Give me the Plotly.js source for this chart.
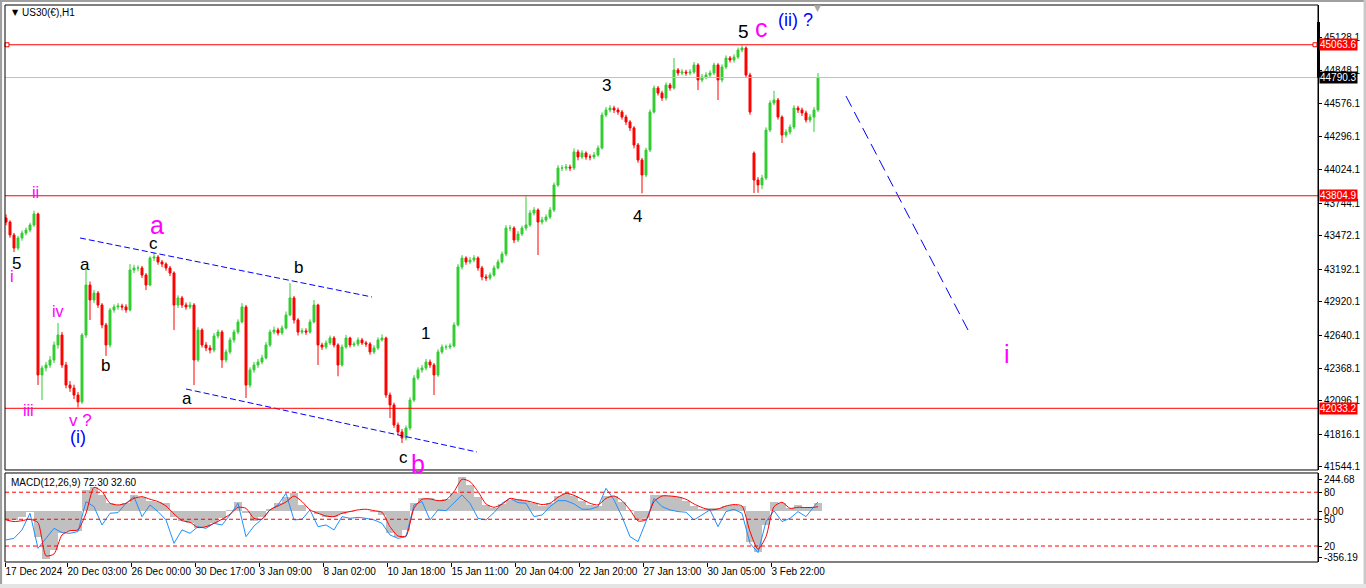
<!DOCTYPE html>
<html><head><meta charset="utf-8">
<script src="https://cdn.plot.ly/plotly-3.0.1.min.js"></script>
<style>html,body{margin:0;padding:0;background:#fff}#chart{width:1366px;height:588px}</style>
</head><body><div id="chart"></div>
<script>
// ---- Candle data (each candle ≈ 2 H1 bars), prices ----
const opens = [43620,43586,43478,43369,43453,43494,43519,43561,43653,42311,
42369,42394,42436,42561,42644,42394,42227,42202,42144,42086,
42644,43061,42936,42994,42894,42728,42561,42853,42878,42886,
42878,42853,43186,43203,43203,43144,43061,43286,43294,43253,
43236,43203,43161,42894,42953,42894,42878,42894,42436,42686,
42561,42536,42519,42636,42669,42436,42503,42603,42669,42753,
42878,42227,42353,42394,42419,42453,42561,42669,42686,42661,
42703,42811,42953,42769,42669,42678,42669,42753,42894,42561,
42544,42578,42619,42561,42394,42544,42619,42561,42569,42603,
42578,42569,42503,42536,42603,42619,42144,42061,41894,41836,
41786,41869,42102,42286,42353,42369,42419,42394,42311,42503,
42544,42544,42553,42728,43211,43286,43253,43269,43286,43203,
43128,43119,43144,43203,43253,43319,43536,43536,43436,43486,
43536,43561,43661,43686,43586,43603,43628,43686,43894,44036,
44036,44044,44036,44170,44128,44161,44128,44128,44145,44203,
44478,44520,44536,44520,44503,44461,44420,44370,44228,44103,
43978,44186,44503,44703,44661,44620,44728,44703,44853,44828,
44836,44828,44836,44895,44770,44795,44811,44828,44895,44770,
44878,44953,44936,44961,45020,45036,44811,44161,43936,43895,
43953,44353,44578,44603,44461,44311,44336,44378,44536,44520,
44495,44436,44461,44520];
const highs = [43650,43600,43495,43470,43515,43540,43580,43680,43665,42390,
42420,42470,42590,42744,42670,42420,42260,42230,42170,42660,
43203,43090,43020,43010,42910,42745,42870,42900,42910,42905,
42900,43236,43230,43225,43220,43160,43300,43328,43310,43270,
43250,43220,43175,42975,42970,42915,42920,42910,42710,42700,
42585,42560,42660,42690,42685,42525,42625,42690,42775,42910,
42895,42375,42420,42445,42480,42585,42690,42715,42705,42725,
42840,43077,42970,42785,42700,42700,42775,42936,42905,42580,
42600,42640,42635,42575,42565,42645,42630,42590,42625,42620,
42595,42585,42560,42625,42650,42630,42165,42080,41915,41860,
41890,42125,42310,42375,42395,42445,42440,42410,42525,42565,
42565,42575,42750,43235,43310,43300,43295,43310,43300,43220,
43150,43165,43225,43275,43340,43560,43560,43550,43510,43555,
43800,43685,43710,43700,43630,43650,43710,43915,44060,44060,
44070,44065,44200,44190,44185,44175,44150,44170,44225,44500,
44545,44560,44555,44540,44520,44480,44435,44385,44245,44120,
44205,44525,44725,44720,44680,44750,44745,44953,44870,44860,
44855,44860,44920,44910,44820,44835,44850,44915,44910,44900,
44975,44970,44985,45040,45063,45050,44830,44175,43960,43980,
44375,44600,44680,44620,44475,44360,44400,44560,44555,44540,
44515,44485,44545,44828];
const lows = [43560,43455,43336,43350,43430,43475,43500,43545,42227,42102,
42340,42370,42410,42530,42370,42200,42170,42110,42040,42070,
42620,42769,42910,42870,42700,42470,42540,42830,42855,42850,
42830,42840,43160,43175,43120,43019,43050,43260,43230,43210,
43180,43135,42686,42870,42870,42855,42860,42227,42420,42540,
42510,42490,42500,42615,42370,42415,42485,42580,42650,42740,
42119,42205,42330,42370,42400,42440,42545,42650,42640,42645,
42690,42800,42740,42640,42650,42645,42655,42740,42394,42520,
42525,42560,42540,42300,42380,42530,42540,42545,42550,42560,
42545,42480,42485,42520,42590,42120,41952,41870,41810,41744,
41765,41850,42085,42270,42330,42350,42370,42144,42295,42485,
42520,42525,42540,42715,43190,43230,43235,43250,43180,43100,
43095,43100,43130,43190,43240,43300,43510,43410,43420,43470,
43515,43545,43640,43311,43565,43585,43610,43670,43880,44010,
44015,44010,44020,44100,44110,44105,44100,44110,44130,44190,
44460,44500,44495,44480,44440,44395,44345,44200,44080,43825,
43960,44170,44490,44640,44595,44600,44680,44690,44805,44810,
44805,44810,44820,44686,44750,44775,44790,44810,44603,44750,
44860,44915,44915,44945,45000,44790,44480,43828,43830,43860,
43935,44335,44560,44440,44245,44290,44315,44360,44495,44470,
44415,44415,44336,44505];
const closes = [43586,43478,43369,43453,43494,43519,43561,43653,42311,42369,
42394,42436,42561,42644,42394,42227,42202,42144,42086,42644,
43061,42936,42994,42894,42728,42561,42853,42878,42886,42878,
42853,43186,43203,43203,43144,43061,43286,43294,43253,43236,
43203,43161,42894,42953,42894,42878,42894,42436,42686,42561,
42536,42519,42636,42669,42436,42503,42603,42669,42753,42878,
42227,42353,42394,42419,42453,42561,42669,42686,42661,42703,
42811,42953,42769,42669,42678,42669,42753,42894,42561,42544,
42578,42619,42561,42394,42544,42619,42561,42569,42603,42578,
42569,42503,42536,42603,42619,42144,42061,41894,41836,41786,
41869,42102,42286,42353,42369,42419,42394,42311,42503,42544,
42544,42553,42728,43211,43286,43253,43269,43286,43203,43128,
43119,43144,43203,43253,43319,43536,43536,43436,43486,43536,
43561,43661,43686,43586,43603,43628,43686,43894,44036,44036,
44044,44036,44170,44128,44161,44128,44128,44145,44203,44478,
44520,44536,44520,44503,44461,44420,44370,44228,44103,43978,
44186,44503,44703,44661,44620,44728,44703,44853,44828,44836,
44828,44836,44895,44770,44795,44811,44828,44895,44770,44878,
44953,44936,44961,45020,45036,44811,44503,43936,43895,43953,
44353,44578,44603,44461,44311,44336,44378,44536,44520,44495,
44436,44461,44520,44790];

// ---- MACD panel values (one per 2 candles) ----
const macdHist = [-65,-65,-40,-1,-194,-368,-296,-168,-150,-150,
166,191,127,63,50,63,127,114,83,76,
63,-40,-71,-86,-130,-122,-91,-53,12,76,
-14,-71,-40,17,63,109,140,50,6,-19,
-40,-40,-22,-1,4,6,-1,-27,-168,-194,
-142,63,101,107,89,94,140,263,204,109,
50,30,55,89,99,83,68,42,63,119,
140,122,83,50,42,119,119,71,12,-65,
-53,127,124,119,114,81,45,17,24,24,
45,53,42,-232,-309,-104,76,63,24,50,
37,32,63];
const macdSignal = [-65,-78,-71,-60,-86,-342,-327,-181,-148,-142,
-14,186,153,63,50,63,101,114,94,76,
42,-19,-71,-83,-124,-117,-91,-60,-22,32,
24,-53,-60,12,42,73,119,76,12,-14,
-35,-40,-14,-1,12,17,6,-6,-117,-189,
-189,24,94,96,83,89,153,248,230,153,
58,32,55,101,89,83,68,53,63,109,
140,124,94,63,50,101,119,83,12,-73,
-65,76,119,119,112,94,58,30,12,19,
42,53,42,-155,-291,-194,37,71,24,32,
30,32,37];
const macdMain = [-219,-207,-142,-14,-284,-207,-130,-163,-168,-155,
76,37,-104,-14,-9,63,114,-40,50,-1,
-65,-245,-142,-168,-117,-130,-91,-104,-27,63,
-194,-112,-58,12,50,140,-65,-60,12,-117,
-104,-142,-40,-53,-45,-53,-65,-91,-181,-207,
-194,50,76,-65,12,6,63,127,63,-53,
-65,-9,63,101,68,63,-40,-27,37,83,
83,58,17,17,37,178,89,-40,-194,-232,
-78,101,37,12,-1,-6,-65,-27,12,-117,
-1,17,-14,-245,-317,-78,6,-78,-53,-1,
-40,37,73];

// ---- Axis tick labels ----
const dateLabels = ['17 Dec 2024','20 Dec 03:00','26 Dec 00:00','30 Dec 17:00','3 Jan 09:00','8 Jan 02:00','10 Jan 18:00','15 Jan 11:00','20 Jan 04:00','22 Jan 20:00','27 Jan 13:00','30 Jan 05:00','3 Feb 22:00'];
const priceTicks = [45128.1,44848.1,44576.1,44296.1,44024.1,43744.1,43472.1,43192.1,42920.1,42640.1,42368.1,42096.1,41816.1,41544.1];
const macdTickVals = [244.68, 148, 0, -60, -266, -356.19];
const macdTickText = ['244.68','80','0.00','50','20','-356.19'];
const macdLevels = [148, -60, -266];

// ---- Horizontal levels ----
const redLevels = [45063.6, 43804.9, 42033.2];
const lastPrice = 44790.3;

// ---- Trend-line drawings (bar index, price) ----
const upperChannel = {x:[18.5, 91.5], y:[43453, 42961]};
const lowerChannel = {x:[45, 117.75], y:[42194, 41669]};
const projection   = {x:[210, 240.5], y:[44636, 42686]};

// ---- Wave labels: text, bar index, price, colour, size ----
const waveLabels = [
 ['5',2.5,43244,'k',17],['i',1.5,43128,'m',16],['ii',7.25,43828,'m',16],
 ['iv',13,42844,'m',16],['iii',5.5,42011,'m',16],['v ?',18.5,41928,'m',17],
 ['(i)',18,41794,'b',18],['a',19.75,43236,'k',17],['b',24.75,42394,'k',17],
 ['c',36.75,43403,'k',17],['a',37.75,43561,'m',25],['a',45.25,42119,'k',17],
 ['b',73,43211,'k',17],['c',99.25,41619,'k',17],['b',103,41569,'m',25],
 ['1',104.75,42653,'k',17],['3',150,44728,'k',17],['4',157.75,43628,'k',17],
 ['5',184.25,45170,'k',19],['c',188.75,45203,'m',25],['(ii) ?',197.25,45270,'b',18],
 ['i',250.25,42486,'m',25]
];

const COL = {k:'#000000', m:'#FF00FF', b:'#0000FF'};
const FONT = 'Liberation Sans, Arial, sans-serif';
const xMin = -0.25, xMax = 328;

const barX = closes.map((_, i) => i);
const macdX = macdHist.map((_, k) => k < macdHist.length - 1 ? 2*k : closes.length - 1);

const traces = [
 {type:'candlestick', x:barX, open:opens, high:highs, low:lows, close:closes,
  xaxis:'x', yaxis:'y', hoverinfo:'skip', whiskerwidth:0,
  increasing:{line:{color:'#32CD32', width:1}, fillcolor:'#32CD32'},
  decreasing:{line:{color:'#FF0000', width:1}, fillcolor:'#FF0000'}, showlegend:false},
 {type:'scatter', mode:'lines', x:upperChannel.x, y:upperChannel.y, xaxis:'x', yaxis:'y',
  line:{color:'#0000FF', width:1, dash:'6px,3px'}, hoverinfo:'skip', showlegend:false},
 {type:'scatter', mode:'lines', x:lowerChannel.x, y:lowerChannel.y, xaxis:'x', yaxis:'y',
  line:{color:'#0000FF', width:1, dash:'6px,3px'}, hoverinfo:'skip', showlegend:false},
 {type:'scatter', mode:'lines', x:projection.x, y:projection.y, xaxis:'x', yaxis:'y',
  line:{color:'#0000FF', width:1, dash:'12px,6px'}, hoverinfo:'skip', showlegend:false},
 {type:'bar', x:macdX, y:macdHist, width:2, xaxis:'x', yaxis:'y2',
  marker:{color:'#C0C0C0', line:{width:0}}, hoverinfo:'skip', showlegend:false},
 {type:'scatter', mode:'lines', x:macdX, y:macdMain, xaxis:'x', yaxis:'y2',
  line:{color:'#1E90FF', width:1}, hoverinfo:'skip', showlegend:false},
 {type:'scatter', mode:'lines', x:macdX, y:macdSignal, xaxis:'x', yaxis:'y2',
  line:{color:'#FF0000', width:1, shape:'spline', smoothing:0.6}, hoverinfo:'skip', showlegend:false}
];

const shapes = [];
redLevels.forEach(v => shapes.push({type:'line', xref:'x domain', x0:0, x1:1, yref:'y', y0:v, y1:v, line:{color:'#FF0000', width:1}}));
shapes.push({type:'line', xref:'x domain', x0:0, x1:1, yref:'y', y0:lastPrice, y1:lastPrice, line:{color:'#C0C0C0', width:1}});
macdLevels.forEach(v => shapes.push({type:'line', xref:'x domain', x0:0, x1:1, yref:'y2', y0:v, y1:v, line:{color:'#FF0000', width:1, dash:'4px,3px'}}));
// small anchor squares of the top level line
[0.0015, 0.9977].forEach(a => shapes.push({type:'rect', xref:'paper', xsizemode:'pixel', xanchor:a, x0:-2, x1:2,
  yref:'y', ysizemode:'pixel', yanchor:redLevels[0], y0:-2, y1:2, line:{color:'#FF0000', width:1}, fillcolor:'#FFFFFF'}));
// panel frames
shapes.push({type:'rect', xref:'x domain', yref:'y domain', x0:0, x1:1, y0:0, y1:1, line:{color:'#000', width:1}});
shapes.push({type:'rect', xref:'x domain', yref:'y2 domain', x0:0, x1:1, y0:0, y1:1, line:{color:'#000', width:1}});
// thick marker on price scale
shapes.push({type:'rect', xref:'paper', xsizemode:'pixel', xanchor:1, x0:-1, x1:2, yref:'y', y0:lastPrice, y1:45253, fillcolor:'#000', line:{width:0}});
// window edges
shapes.push({type:'rect', xref:'paper', yref:'paper', x0:-0.004, x1:-0.0022, y0:-0.05, y1:1.01, fillcolor:'#A0A0A0', line:{width:0}});
shapes.push({type:'rect', xref:'paper', yref:'paper', x0:-0.004, x1:1.04, y0:1.0055, y1:1.01, fillcolor:'#A0A0A0', line:{width:0}});
shapes.push({type:'rect', xref:'paper', yref:'paper', x0:1.0347, x1:1.04, y0:-0.05, y1:1.01, fillcolor:'#C8C8C8', line:{width:0}});
shapes.push({type:'rect', xref:'paper', yref:'paper', x0:-0.004, x1:1.04, y0:-0.05, y1:-0.0395, fillcolor:'#E4E4E4', line:{width:0}});

const annotations = waveLabels.map(w => ({x:w[1], y:w[2], xref:'x', yref:'y', text:w[0], showarrow:false,
  xanchor:'center', yanchor:'middle', font:{family:FONT, size:w[4], color:COL[w[3]]}}));
annotations.push({x:202.75, y:45370, xref:'x', yref:'y', text:'▼', showarrow:false, font:{family:'DejaVu Sans', size:9, color:'#A8A8A8'}});
annotations.push({xref:'paper', yref:'paper', x:0.0038, y:0.9874, xanchor:'left', yanchor:'middle', showarrow:false,
  text:'▼', font:{family:'DejaVu Sans', size:8, color:'#000'}});
annotations.push({xref:'paper', yref:'paper', x:0.0114, y:0.9874, xanchor:'left', yanchor:'middle', showarrow:false,
  text:'US30(€),H1', font:{family:FONT, size:10, color:'#000'}});
annotations.push({xref:'paper', yref:'paper', x:0.0030, y:0.1436, xanchor:'left', yanchor:'middle', showarrow:false,
  text:'MACD(12,26,9) 72.30 32.60', font:{family:FONT, size:10, color:'#000'}});
redLevels.forEach(v => annotations.push({xref:'paper', x:1, xanchor:'left', xshift:1, yref:'y', y:v, yanchor:'middle',
  text:v.toFixed(1), showarrow:false, bgcolor:'#FF0000', borderpad:0, font:{family:FONT, size:10, color:'#FFFFFF'}}));
annotations.push({xref:'paper', x:1, xanchor:'left', xshift:1, yref:'y', y:lastPrice, yanchor:'middle',
  text:lastPrice.toFixed(1), showarrow:false, bgcolor:'#000000', borderpad:0, font:{family:FONT, size:10, color:'#FFFFFF'}});

const dateTickPos = dateLabels.map((_, k) => k === 0 ? xMin : 16*k - 0.75);

const layout = {
  width:1366, height:588, margin:{l:5, r:48, t:5, b:26},
  paper_bgcolor:'#FFFFFF', plot_bgcolor:'#FFFFFF', showlegend:false, bargap:0,
  font:{family:FONT, size:10, color:'#000'},
  xaxis:{domain:[0,1], anchor:'y2', range:[xMin, xMax], rangeslider:{visible:false},
    showgrid:false, zeroline:false, showline:false, tickmode:'array', tickvals:dateTickPos, ticktext:dateLabels,
    tickangle:0, automargin:false,
    ticks:'outside', ticklen:4, tickcolor:'#000', ticklabelposition:'outside right', tickfont:{family:FONT, size:10, color:'#000'}},
  yaxis:{domain:[0.1652,1], anchor:'x', side:'right', range:[41519, 45395], showgrid:false, zeroline:false,
    showline:true, linecolor:'#000', linewidth:1, tickmode:'array', tickvals:priceTicks, ticktext:priceTicks.map(v=>v.toFixed(1)),
    ticks:'outside', ticklen:3, tickcolor:'#000', tickfont:{family:FONT, size:10, color:'#000'}, automargin:false},
  yaxis2:{domain:[0,0.1598], anchor:'x', side:'right', range:[-389, 296], showgrid:false, zeroline:false,
    showline:true, linecolor:'#000', linewidth:1, tickmode:'array', tickvals:macdTickVals, ticktext:macdTickText,
    ticks:'outside', ticklen:3, tickcolor:'#000', tickfont:{family:FONT, size:10, color:'#000'}, automargin:false},
  shapes:shapes, annotations:annotations
};

Plotly.newPlot('chart', traces, layout, {staticPlot:true, displayModeBar:false});
</script></body></html>
